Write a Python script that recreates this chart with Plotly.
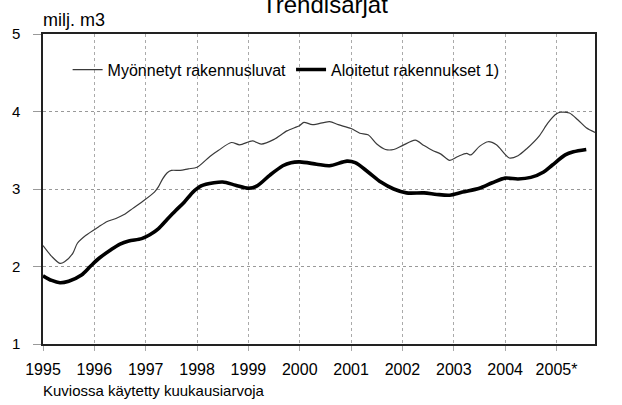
import plotly.graph_objects as go

# Decimal-year positions and values (milj. m3)
granted_t = [1995.00, 1995.17, 1995.33, 1995.42, 1995.58, 1995.67, 1995.83, 1996.08, 1996.25,
             1996.42, 1996.58, 1996.75, 1996.92, 1997.17, 1997.25, 1997.33, 1997.42, 1997.50,
             1997.67, 1997.83, 1998.00, 1998.25, 1998.42, 1998.67, 1998.83, 1999.08, 1999.25,
             1999.50, 1999.75, 2000.00, 2000.08, 2000.25, 2000.58, 2000.75, 2001.00, 2001.17,
             2001.33, 2001.50, 2001.67, 2001.83, 2002.00, 2002.25, 2002.42, 2002.58, 2002.75,
             2002.92, 2003.08, 2003.25, 2003.33, 2003.50, 2003.67, 2003.83, 2004.08, 2004.25,
             2004.42, 2004.67, 2004.83, 2005.00, 2005.08, 2005.25, 2005.42, 2005.58, 2005.75]
granted_v = [2.27, 2.13, 2.04, 2.06, 2.17, 2.30, 2.40, 2.51, 2.58,
             2.62, 2.67, 2.75, 2.83, 2.96, 3.03, 3.13, 3.21, 3.24,
             3.24, 3.26, 3.28, 3.42, 3.50, 3.60, 3.57, 3.62, 3.58,
             3.64, 3.75, 3.82, 3.86, 3.83, 3.87, 3.83, 3.78, 3.72,
             3.70, 3.58, 3.51, 3.51, 3.56, 3.63, 3.56, 3.50, 3.45,
             3.37, 3.42, 3.46, 3.44, 3.55, 3.61, 3.57, 3.40, 3.43,
             3.52, 3.69, 3.85, 3.97, 3.99, 3.98, 3.89, 3.79, 3.73]

started_t = [1995.00, 1995.17, 1995.33, 1995.50, 1995.75, 1995.92, 1996.08, 1996.33, 1996.50,
             1996.67, 1996.92, 1997.08, 1997.25, 1997.42, 1997.58, 1997.75, 1997.92, 1998.08,
             1998.33, 1998.50, 1998.75, 1999.00, 1999.17, 1999.42, 1999.67, 1999.83, 2000.00,
             2000.33, 2000.58, 2000.92, 2001.08, 2001.33, 2001.58, 2001.83, 2002.08, 2002.42,
             2002.67, 2002.92, 2003.17, 2003.50, 2003.75, 2004.00, 2004.25, 2004.50, 2004.75,
             2004.92, 2005.17, 2005.33, 2005.58]
started_v = [1.88, 1.82, 1.79, 1.81, 1.89, 2.00, 2.10, 2.22, 2.29,
             2.33, 2.36, 2.41, 2.49, 2.61, 2.72, 2.83, 2.96, 3.04,
             3.08, 3.09, 3.05, 3.01, 3.04, 3.18, 3.30, 3.34, 3.35,
             3.32, 3.30, 3.36, 3.34, 3.22, 3.09, 3.00, 2.95, 2.95,
             2.93, 2.92, 2.96, 3.01, 3.08, 3.14, 3.13, 3.15, 3.22,
             3.31, 3.44, 3.48, 3.51]

year_ticks = [1995, 1996, 1997, 1998, 1999, 2000, 2001, 2002, 2003, 2004, 2005]
year_labels = ["1995", "1996", "1997", "1998", "1999", "2000", "2001", "2002", "2003", "2004", "2005*"]
y_ticks = [1, 2, 3, 4, 5]

FONT = "Liberation Sans, Arial, sans-serif"

fig = go.Figure()
fig.add_trace(go.Scatter(x=granted_t, y=granted_v, mode="lines", name="Myönnetyt rakennusluvat",
                         line=dict(color="#3a3a3a", width=1.2, shape="spline", smoothing=0.8)))
fig.add_trace(go.Scatter(x=started_t, y=started_v, mode="lines", name="Aloitetut rakennukset 1)",
                         line=dict(color="#000000", width=3.6, shape="spline", smoothing=0.8)))

fig.update_layout(
    width=622, height=405,
    margin=dict(l=39, r=27, t=34, b=61, pad=0),
    plot_bgcolor="white", paper_bgcolor="white",
    font=dict(family=FONT, color="black"),
    showlegend=True,
    legend=dict(orientation="h", x=0.0446, y=0.885, xanchor="left", yanchor="middle",
                font=dict(size=16, family=FONT), bgcolor="rgba(0,0,0,0)",
                itemwidth=30, tracegroupgap=0),
    xaxis=dict(range=[1995, 2005.75], tickmode="array", tickvals=year_ticks, ticktext=year_labels,
               showgrid=True, gridcolor="#aaaaaa", griddash="dot", gridwidth=1,
               showline=True, linecolor="#222222", linewidth=1.5, mirror=True,
               ticks="outside", ticklen=5, tickcolor="#aaaaaa", tickwidth=1,
               tickfont=dict(size=16), ticklabelstandoff=5, zeroline=False),
    yaxis=dict(range=[1, 5], tickmode="array", tickvals=y_ticks,
               showgrid=True, gridcolor="#999999", griddash="dot", gridwidth=1,
               showline=True, linecolor="#222222", linewidth=1.5, mirror=True,
               ticks="outside", ticklen=8, tickcolor="#999999", tickwidth=1,
               tickfont=dict(size=15), ticklabelstandoff=10, zeroline=False),
    yaxis2=dict(range=[1, 5], tickmode="array", tickvals=y_ticks, overlaying="y", side="right",
                showgrid=False, showline=False, ticks="outside", ticklen=6,
                tickcolor="#999999", tickwidth=1, tickfont=dict(size=15),
                ticklabelstandoff=6, zeroline=False),
    annotations=[
        dict(text="Trendisarjat", xref="paper", yref="paper", x=0.51, y=1.0965,
             xanchor="center", yanchor="middle", showarrow=False, font=dict(size=24)),
        dict(text="milj. m3", xref="paper", yref="paper", x=-0.003, y=1.045,
             xanchor="left", yanchor="middle", showarrow=False, font=dict(size=18)),
        dict(text="Kuviossa käytetty kuukausiarvoja", xref="paper", yref="paper", x=-0.003, y=-0.151,
             xanchor="left", yanchor="middle", showarrow=False, font=dict(size=15)),
    ],
)

fig.write_html("out.html", config={"displayModeBar": False},
               post_script="document.body.style.margin='0px';")
